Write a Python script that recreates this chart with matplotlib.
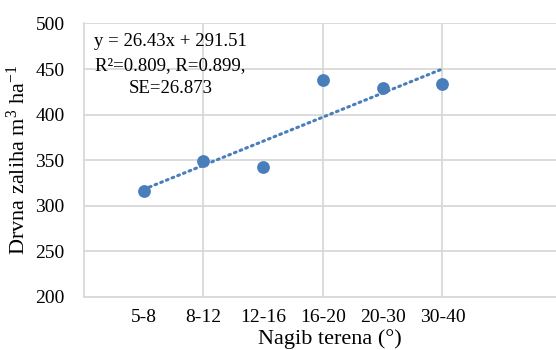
import numpy as np
import matplotlib
matplotlib.use("Agg")
import matplotlib.pyplot as plt

# data
categories = ["5-8", "8-12", "12-16", "16-20", "20-30", "30-40"]
values = [316, 349, 343, 438, 429, 434]
slope, intercept = 26.43, 291.51
fit_text = "y = 26.43x + 291.51\nR²=0.809, R=0.899,\nSE=26.873"

plt.rcParams['font.family'] = ['Liberation Serif', 'DejaVu Serif']
plt.rcParams['mathtext.fontset'] = 'custom'
plt.rcParams['mathtext.rm'] = 'Liberation Serif'
plt.rcParams['mathtext.it'] = 'Liberation Serif:italic'

blue = '#4a7ebb'
grid_c = '#d9d9d9'

fig = plt.figure(figsize=(5.56, 3.5), dpi=100)
ax = fig.add_axes([0.151, 0.152, 0.849, 0.781])

x = np.arange(1, len(categories) + 1)
xt = np.array([x[0], x[-1]])
ax.plot(xt, slope * xt + intercept, linestyle=(0, (0.6, 1.4)), color=blue,
        linewidth=2.2, dash_capstyle='round', zorder=2)
ax.scatter(x, values, s=85, color=blue, zorder=3, linewidths=0)

ax.set_xlim(0, 7.9)
ax.set_ylim(200, 500)
ax.set_yticks(np.arange(200, 501, 50))
ax.set_xticks(x)
ax.set_xticklabels(categories)
# vertical gridlines every 2 units of the category axis
for gx in (2, 4, 6):
    ax.axvline(gx, color=grid_c, linewidth=1.3, zorder=0)
ax.tick_params(axis='both', length=0, labelsize=14)
ax.tick_params(axis='x', pad=9)
ax.tick_params(axis='y', pad=14)
ax.grid(True, axis='y', color=grid_c, linewidth=1.3)
ax.set_axisbelow(True)
for s in ['top', 'right']:
    ax.spines[s].set_visible(False)
for s in ['left', 'bottom']:
    ax.spines[s].set_color(grid_c)
    ax.spines[s].set_linewidth(1.3)

ax.set_ylabel(r"Drvna zaliha m$^{3}$ ha$^{-1}$", fontsize=16, labelpad=4)
fig.text(0.593, 0.003, "Nagib terena (°)", fontsize=16, ha='center', va='bottom')

ax.text(1.45, 489, fit_text, ha='center', va='top', fontsize=13.5,
        linespacing=1.5)

fig.savefig("out.png", dpi=100)
